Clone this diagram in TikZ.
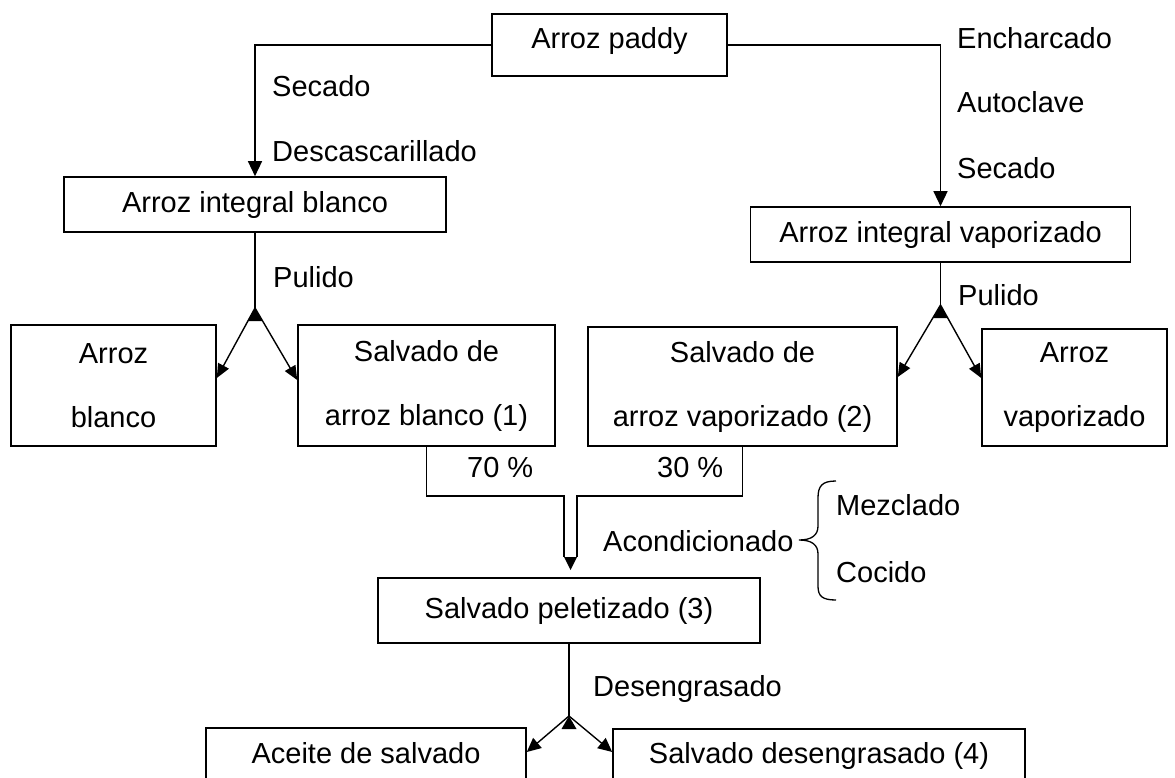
\documentclass[tikz,border=0pt]{standalone}
\usepackage{fontspec}
\setmainfont{Liberation Sans}
\usetikzlibrary{arrows.meta}
\begin{document}
\begin{tikzpicture}[x=1pt,y=-1pt,
  font=\fontsize{29}{34}\selectfont,
  box/.style={draw, line width=1.6pt, inner sep=0pt, text height=21pt, text depth=5pt},
  twoline/.style={draw, line width=1.6pt, inner sep=0pt, align=center, font=\fontsize{29}{64}\selectfont},
  conn/.style={line width=1.4pt},
  arr/.style={conn, -{Triangle[length=15pt,width=14pt]}},
  darr/.style={conn, -{Triangle[length=14pt,width=12pt]}},
  barr/.style={conn, -{Triangle[length=14pt,width=13pt]}},
  lbl/.style={anchor=base west, inner sep=0pt}
]
\useasboundingbox (0,0) rectangle (1175,778);

% boxes
\node[box, minimum width=235pt, minimum height=62pt, text depth=13pt] (paddy) at (609.5,45) {Arroz paddy};
\node[box, minimum width=382pt, minimum height=55pt] (aib) at (255,204.5) {Arroz integral blanco};
\node[box, minimum width=380pt, minimum height=55pt] (aiv) at (940.5,234.5) {Arroz integral vaporizado};
\node[twoline, minimum width=205pt, minimum height=121pt] (ab) at (113.5,385.5) {Arroz\\blanco};
\node[twoline, minimum width=257pt, minimum height=121pt] (sab) at (426.5,385.5) {Salvado de\\arroz blanco (1)};
\node[twoline, minimum width=309pt, minimum height=119pt] (sav) at (742.5,386.5) {Salvado de\\arroz vaporizado (2)};
\node[twoline, minimum width=185pt, minimum height=117pt] (av) at (1074.5,387.5) {Arroz\\vaporizado};
\node[box, minimum width=382pt, minimum height=65pt] (pel) at (569,610.5) {Salvado peletizado (3)};
\node[box, minimum width=320pt, minimum height=54pt] (ace) at (366,755) {Aceite de salvado};
\node[box, minimum width=412pt, minimum height=53pt] (sdes) at (819,755.5) {Salvado desengrasado (4)};

% top connectors
\draw[arr] (paddy.west) -| (aib.north);
\draw[arr] (paddy.east) -| (aiv.north);

% junctions
\coordinate (jL) at (255,308);
\coordinate (jR) at (940.5,305);
\coordinate (jB) at (569,716);

\draw[conn] (aib.south) -- (jL);
\draw[darr] (jL) -- ([yshift=7.5pt]ab.east);
\draw[darr] (jL) -- ([yshift=5.5pt]sab.west);
\fill (jL) -- ++(-7.5,13) -- ++(15,0) -- cycle;

\draw[conn] (aiv.south) -- (jR);
\draw[darr] (jR) -- ([yshift=9.5pt]sav.east);
\draw[darr] (jR) -- ([yshift=9.5pt]av.west);
\fill (jR) -- ++(-7.5,13) -- ++(15,0) -- cycle;

% merge 70/30
\coordinate (m1) at (564,496);
\coordinate (m2) at (577,496);
\coordinate (m1b) at (564,557);
\coordinate (m2b) at (577,557);
\coordinate (mt) at (570.5,570);
\draw[conn] (sab.south) |- (m1) -- (m1b);
\draw[conn] (sav.south) |- (m2) -- (m2b);
\fill (m1b) -- (m2b) -- (mt) -- cycle;

% bottom split
\draw[conn] (pel.south) -- (jB);
\draw[barr] (jB) -- ([yshift=3pt]ace.east);
\draw[barr] (jB) -- ([yshift=3.5pt]sdes.west);
\fill (jB) -- ++(-7.5,13) -- ++(15,0) -- cycle;

% labels
\node[lbl] (l1) at (272,96.5) {Secado};
\node[lbl] (l2) at (272,162) {Descascarillado};
\node[lbl] (l3) at (957,48.5) {Encharcado};
\node[lbl] (l4) at (957,113) {Autoclave};
\node[lbl] (l5) at (957,179) {Secado};
\node[lbl] (l6) at (273,287.5) {Pulido};
\node[lbl] (l7) at (958,305) {Pulido};
\node[lbl] (l8) at (467,477) {70 \%};
\node[lbl] (l9) at (657,477) {30 \%};
\node[lbl] (l10) at (603,551) {Acondicionado};
\node[lbl] (l11) at (836,515) {Mezclado};
\node[lbl] (l12) at (836,582) {Cocido};
\node[lbl] (l13) at (593,696) {Desengrasado};

% brace
\draw[line width=1.3pt] (836,481) .. controls (822,481) and (818,486) .. (818,498) -- (818,526)
  .. controls (818,535) and (812,540) .. (799,540)
  .. controls (812,540) and (818,545) .. (818,554) -- (818,586)
  .. controls (818,596) and (822,600) .. (836,600);
\end{tikzpicture}
\end{document}
